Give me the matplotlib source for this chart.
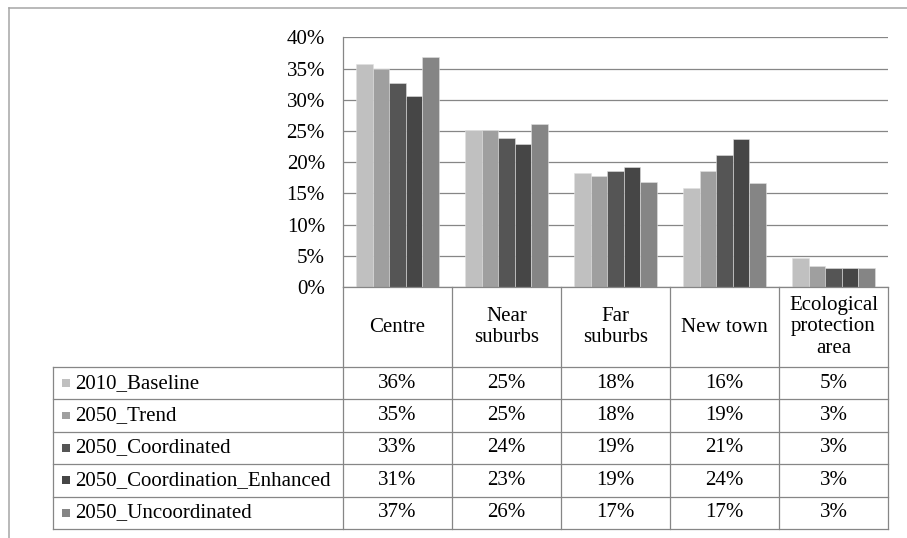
import matplotlib
matplotlib.use("Agg")
import matplotlib.pyplot as plt
import numpy as np
import math

categories = ["Centre", "Near\nsuburbs", "Far\nsuburbs", "New town", "Ecological\nprotection\narea"]
series_names = ["2010_Baseline", "2050_Trend", "2050_Coordinated",
                "2050_Coordination_Enhanced", "2050_Uncoordinated"]
baseline_2010 = [35.8, 25.1, 18.2, 15.9, 4.6]
trend_2050 = [34.9, 25.1, 17.8, 18.6, 3.4]
coordinated_2050 = [32.7, 23.9, 18.6, 21.2, 3.1]
enhanced_2050 = [30.6, 22.9, 19.2, 23.7, 3.0]
uncoordinated_2050 = [36.8, 26.1, 16.9, 16.7, 3.0]
series_values = [baseline_2010, trend_2050, coordinated_2050, enhanced_2050, uncoordinated_2050]
colors = ["#C0C0C0", "#9F9F9F", "#555555", "#464646", "#858585"]
yticks = [0, 5, 10, 15, 20, 25, 30, 35, 40]

W, H = 907, 538
plt.rcParams["font.family"] = ["Liberation Serif", "DejaVu Serif"]
FS = 15
plt.rcParams["font.size"] = FS
grid_c = "#868686"

fig = plt.figure(figsize=(W / 100, H / 100), dpi=100)

# pixel layout
ax_l, ax_r, ax_t, ax_b = 343, 888, 37.5, 287
ax = fig.add_axes([ax_l / W, (H - ax_b) / H, (ax_r - ax_l) / W, (ax_b - ax_t) / H])

n = len(categories)
k = len(series_values)
x = np.arange(n)
group = 0.755
bw = group / k
for i, (vals, c) in enumerate(zip(series_values, colors)):
    ax.bar(x - group / 2 + bw * (i + 0.5), vals, width=bw, color=c,
           edgecolor="#E0E0E0", linewidth=0.4, zorder=3)

ax.set_xlim(-0.5, n - 0.5)
ax.set_ylim(0, 40)
ax.set_yticks(yticks)
ax.set_yticklabels([f"{t}%" for t in yticks])
ax.set_xticks([])
ax.tick_params(axis="y", length=0, pad=13, labelsize=FS)
ax.yaxis.grid(True, color=grid_c, linewidth=0.9, zorder=0)
ax.set_axisbelow(True)
for s in ["top", "right", "bottom"]:
    ax.spines[s].set_visible(False)
ax.spines["left"].set_color(grid_c)
ax.spines["left"].set_linewidth(0.9)

# overlay for table and frame (pixel coordinates)
ov = fig.add_axes([0, 0, 1, 1], zorder=5)
ov.set_xlim(0, W)
ov.set_ylim(H, 0)
ov.axis("off")
ov.patch.set_alpha(0)

lc = dict(color=grid_c, linewidth=0.9)
# outer frame
ov.plot([8.5, 8.5], [7.5, H], color="#A6A6A6", linewidth=1.1)
ov.plot([8.5, W], [7.5, 7.5], color="#A6A6A6", linewidth=1.1)

# table geometry
tab_left = 53
col_edges = np.linspace(ax_l, ax_r, n + 1)
header_bot = 367
row_h = (529 - header_bot) / k
row_edges = [header_bot + row_h * r for r in range(k + 1)]

ov.plot([ax_l, ax_r], [ax_b, ax_b], **lc)
for xe in col_edges:
    ov.plot([xe, xe], [ax_b, row_edges[-1]], **lc)
ov.plot([tab_left, tab_left], [header_bot, row_edges[-1]], **lc)
for ye in row_edges:
    ov.plot([tab_left, ax_r], [ye, ye], **lc)

# header labels
for j, cat in enumerate(categories):
    cx = (col_edges[j] + col_edges[j + 1]) / 2
    ov.text(cx, (ax_b + header_bot) / 2, cat, ha="center", va="center",
            fontsize=FS, linespacing=1.17)

# rows
for i, (name, vals, c) in enumerate(zip(series_names, series_values, colors)):
    cy = (row_edges[i] + row_edges[i + 1]) / 2
    ov.add_patch(plt.Rectangle((62, cy - 4), 7.8, 7.8, facecolor=c, edgecolor="none"))
    ov.text(75, cy, name, ha="left", va="center", fontsize=FS)
    for j, v in enumerate(vals):
        cx = (col_edges[j] + col_edges[j + 1]) / 2
        ov.text(cx, cy, f"{math.floor(v + 0.5)}%", ha="center", va="center", fontsize=FS)

fig.savefig("out.png", dpi=100)
